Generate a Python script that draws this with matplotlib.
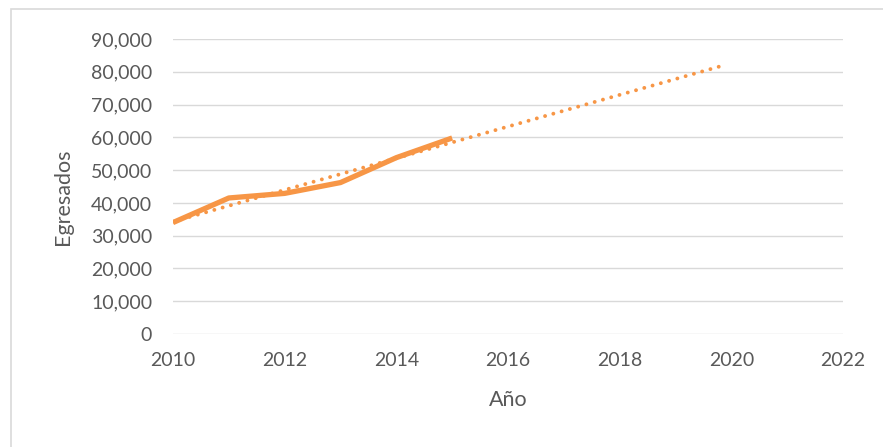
import numpy as np
import matplotlib
matplotlib.use("Agg")
import matplotlib.pyplot as plt
from matplotlib.patches import Rectangle
from matplotlib.ticker import FuncFormatter


YEARS = [2010, 2011, 2012, 2013, 2014, 2015]
EGRESADOS = [34000, 41500, 42900, 46200, 53800, 59800]
TREND_END = 2019.85

X_TICKS = [2010, 2012, 2014, 2016, 2018, 2020, 2022]
Y_TICKS = [0, 10000, 20000, 30000, 40000, 50000, 60000, 70000, 80000, 90000]

ORANGE = "#F79646"
GRID = "#d9d9d9"
TEXT = "#595959"

plt.rcParams["font.family"] = ["Lato", "DejaVu Sans"]


def main():
    fig = plt.figure(figsize=(8.83, 4.47), dpi=100)
    ax = fig.add_axes([173 / 883, 1 - 334 / 447, 670 / 883, 295 / 447])

    # chart area border like Excel
    fig.patches.append(Rectangle((11 / 883, -0.1), 1.2, 1.1 - 9 / 447,
                                 transform=fig.transFigure, fill=False,
                                 edgecolor=GRID, linewidth=1.2))

    # linear trend, forecast forward
    coef = np.polyfit(YEARS, EGRESADOS, 1)
    tx = np.array([YEARS[0], TREND_END])
    ax.plot(tx, np.polyval(coef, tx), color=ORANGE, linewidth=2.8,
            linestyle=(0, (0.01, 2.2)), dash_capstyle="round", zorder=3)

    ax.plot(YEARS, EGRESADOS, color=ORANGE, linewidth=3.8,
            solid_joinstyle="round", solid_capstyle="butt", zorder=4)

    ax.set_xlim(2010, 2022)
    ax.set_ylim(0, 90000)
    ax.set_xticks(X_TICKS)
    ax.set_yticks(Y_TICKS)
    ax.yaxis.set_major_formatter(FuncFormatter(lambda v, p: f"{int(v):,}"))

    ax.grid(axis="y", color=GRID, linewidth=1.0)
    ax.set_axisbelow(True)
    for s in ax.spines.values():
        s.set_visible(False)
    ax.tick_params(length=0, labelsize=14, labelcolor=TEXT)
    ax.tick_params(axis="y", pad=15)
    ax.tick_params(axis="x", pad=13)

    ax.set_ylabel("Egresados", fontsize=15.5, color=TEXT)
    ax.set_xlabel("Año", fontsize=15.5, color=TEXT)
    ax.yaxis.set_label_coords((73 - 173) / 670, (334 - 197) / 295)
    ax.xaxis.set_label_coords(0.5, (334 - 390) / 295)

    fig.savefig("out.png", dpi=100)
    plt.close(fig)


if __name__ == "__main__":
    main()
